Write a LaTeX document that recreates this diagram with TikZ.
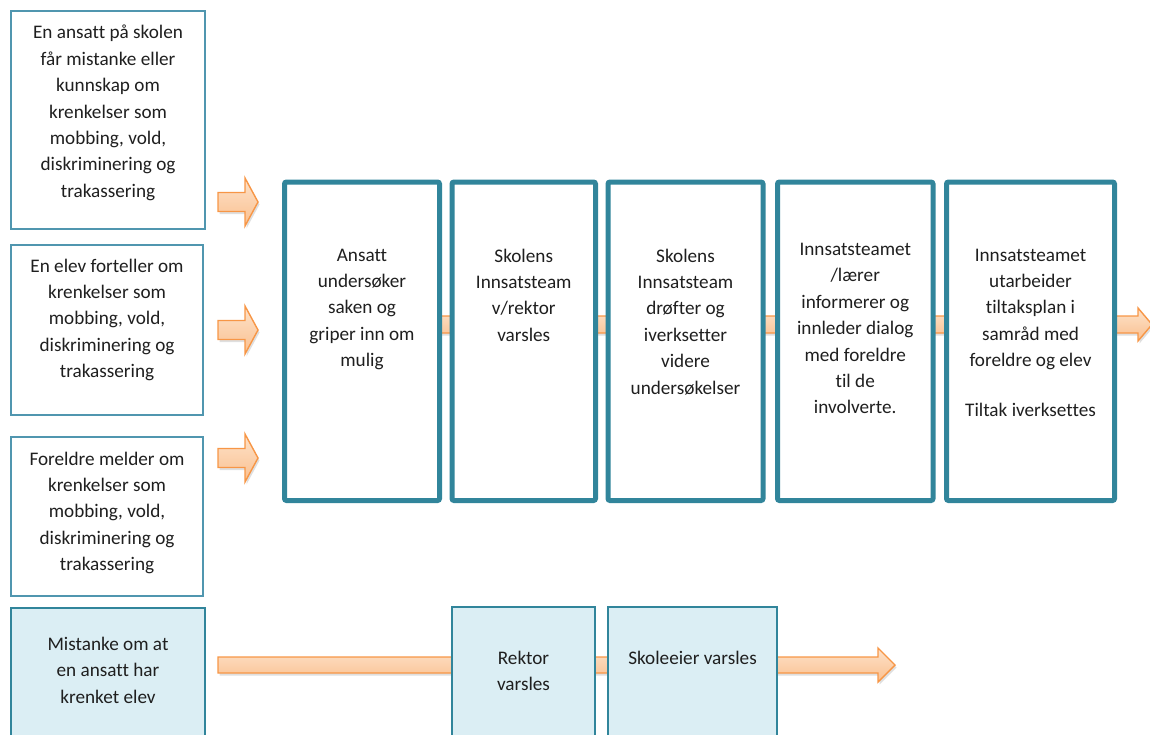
\documentclass[tikz,border=0pt]{standalone}
\usepackage{fontspec}
\setmainfont{Carlito}[Ligatures=NoCommon]
\usetikzlibrary{shadows}
\definecolor{stepblue}{RGB}{49,133,155}
\definecolor{inline}{RGB}{80,150,175}
\definecolor{lowfill}{RGB}{219,238,244}
\definecolor{arrline}{RGB}{247,150,70}
\definecolor{arrtop}{RGB}{253,226,202}
\definecolor{arrbot}{RGB}{250,192,143}
\tikzset{
  inbox/.style={draw=inline,line width=1.1pt,fill=white,inner sep=0pt},
  stepbox/.style={draw=stepblue,line width=5pt,fill=white,rounded corners=2pt,inner sep=0pt},
  lowbox/.style={draw=stepblue,line width=1.4pt,fill=lowfill,inner sep=0pt},
  txt/.style={align=center,inner sep=0pt,anchor=north,text=black!88,
    font=\fontsize{19.2}{26.4}\selectfont},
  blockarrow/.style={draw=arrline,line width=1.4pt,line join=miter,
    top color=arrtop,bottom color=arrbot,
    drop shadow={opacity=0.25,shadow xshift=1.5pt,shadow yshift=-2.5pt}}
}
\begin{document}
\begin{tikzpicture}[x=1pt,y=-1pt]
  \path[use as bounding box,clip] (0,0) rectangle (1150,734);

  % block arrows behind the boxes
  \foreach \c in {202,330,458}
    \draw[blockarrow] (218,\c-9.5) -- (245,\c-9.5) -- (245,\c-24) -- (258,\c)
      -- (245,\c+24) -- (245,\c+9.5) -- (218,\c+9.5) -- cycle;
  \draw[blockarrow] (283,316) -- (1138,316) -- (1138,308) -- (1152,324.5)
    -- (1138,341) -- (1138,333) -- (283,333) -- cycle;
  \draw[blockarrow] (218,657) -- (878,657) -- (878,648) -- (895,665)
    -- (878,682) -- (878,673) -- (218,673) -- cycle;

  % what starts the case
  \node[inbox,minimum width=194,minimum height=218] (in1) at (108,120) {};
  \node[inbox,minimum width=192,minimum height=170] (in2) at (107,330) {};
  \node[inbox,minimum width=192,minimum height=159] (in3) at (107,516.5) {};
  \node[txt] (in1t) at (108,25) {En ansatt på skolen\\får mistanke eller\\kunnskap om\\krenkelser som\\mobbing, vold,\\diskriminering og\\trakassering};
  \node[txt] (in2t) at (107,258.5) {En elev forteller om\\krenkelser som\\mobbing, vold,\\diskriminering og\\trakassering};
  \node[txt] (in3t) at (107,451.5) {Foreldre melder om\\krenkelser som\\mobbing, vold,\\diskriminering og\\trakassering};

  % the steps
  \node[stepbox,minimum width=155,minimum height=318.5] (s1) at (362,341.25) {};
  \node[stepbox,minimum width=143.5,minimum height=318.5] (s2) at (523.75,341.25) {};
  \node[stepbox,minimum width=155,minimum height=318.5] (s3) at (685.5,341.25) {};
  \node[stepbox,minimum width=155.5,minimum height=318.5] (s4) at (855.25,341.25) {};
  \node[stepbox,minimum width=168,minimum height=318.5] (s5) at (1030.5,341.25) {};
  \node[txt] (s1t) at (362,248.5) {Ansatt\\undersøker\\saken og\\griper inn om\\mulig};
  \node[txt] (s2t) at (523.75,248.5) {Skolens\\Innsatsteam\\v/rektor\\varsles};
  \node[txt] (s3t) at (685.5,248.5) {Skolens\\Innsatsteam\\drøfter og\\iverksetter\\videre\\undersøkelser};
  \node[txt] (s4t) at (855.25,243) {Innsatsteamet\\/lærer\\informerer og\\innleder dialog\\med foreldre\\til de\\involverte.};
  \node[txt] (s5t) at (1030.5,248.5) {Innsatsteamet\\utarbeider\\tiltaksplan i\\samråd med\\foreldre og elev\\[23.6pt]Tiltak iverksettes};

  % staff case
  \node[lowbox,minimum width=194,minimum height=152] (staff) at (108,684) {};
  \node[lowbox,minimum width=143,minimum height=153] (rektor) at (523.5,683.5) {};
  \node[lowbox,minimum width=169,minimum height=153] (owner) at (692.5,683.5) {};
  \node[txt] (stafft) at (108,637) {Mistanke om at\\en ansatt har\\krenket elev};
  \node[txt] (rektort) at (523.5,651) {Rektor\\varsles};
  \node[txt] (ownert) at (692.5,650.5) {Skoleeier varsles};
\end{tikzpicture}
\end{document}
